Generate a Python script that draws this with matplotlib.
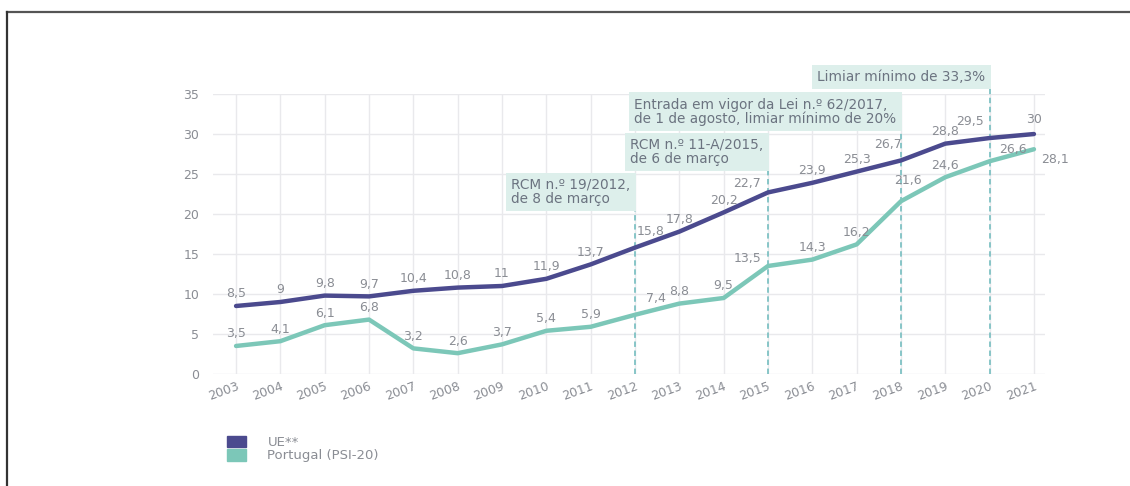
import matplotlib.pyplot as plt
from matplotlib.lines import Line2D
from matplotlib.patches import Patch

plt.rcParams['font.family'] = ['DejaVu Sans']

years = list(range(2003, 2022))
ue = [8.5, 9, 9.8, 9.7, 10.4, 10.8, 11, 11.9, 13.7, 15.8, 17.8, 20.2, 22.7, 23.9, 25.3, 26.7, 28.8, 29.5, 30]
portugal = [3.5, 4.1, 6.1, 6.8, 3.2, 2.6, 3.7, 5.4, 5.9, 7.4, 8.8, 9.5, 13.5, 14.3, 16.2, 21.6, 24.6, 26.6, 28.1]

marker_years = [2012, 2015, 2018, 2020]
marker_texts = [
    'RCM n.º 19/2012,\nde 8 de março',
    'RCM n.º 11-A/2015,\nde 6 de março',
    'Entrada em vigor da Lei n.º 62/2017,\nde 1 de agosto, limiar mínimo de 20%',
    'Limiar mínimo de 33,3%',
]
marker_levels = [20.5, 25.5, 30.5, 35.75]

UE_COL = '#4b4a8e'
PT_COL = '#7cc7b8'
TXT = '#8a8d94'
BOX = '#ddefeb'
DASH = '#7fc2c4'


def fmt(v):
    return ('%g' % v).replace('.', ',')


# label offsets in points (dx, dy) where the default doesn't fit
ue_off = {2012: (11, 7), 2015: (-15, 2), 2018: (-9, 7), 2020: (-14, 7), 2021: (0, 6)}
pt_off = {2012: (15, 7), 2015: (-15, 1), 2018: (5, 10), 2020: (17, 4), 2021: (15, -12)}

fig = plt.figure(figsize=(11.3, 4.86), dpi=100)
ax = fig.add_axes([0.1885, 0.2305, 0.7363, 0.576])

ax.plot(years, ue, color=UE_COL, lw=3.2, solid_capstyle='round', zorder=4)
ax.plot(years, portugal, color=PT_COL, lw=3.2, solid_capstyle='round', zorder=4)

for yr, v in zip(years, ue):
    dx, dy = ue_off.get(yr, (0, 4))
    ax.annotate(fmt(v), (yr, v), xytext=(dx, dy), textcoords='offset points',
                ha='center', va='bottom', fontsize=9, color=TXT, zorder=5)
for yr, v in zip(years, portugal):
    dx, dy = pt_off.get(yr, (0, 4))
    ax.annotate(fmt(v), (yr, v), xytext=(dx, dy), textcoords='offset points',
                ha='center', va='bottom', fontsize=9, color=TXT, zorder=5)

for yr, txt, lvl in zip(marker_years, marker_texts, marker_levels):
    ax.vlines(yr, 0, lvl, colors=DASH, linestyles=(0, (3, 2)), lw=1.3, zorder=3, clip_on=False)
    ax.text(yr - 0.1, lvl + 0.5, txt, ha='right', va='bottom', multialignment='left',
            fontsize=9.8, color='#6b7380', linespacing=0.98, zorder=6, clip_on=False,
            bbox=dict(boxstyle='square,pad=0.4', fc=BOX, ec='none'))

ax.set_xlim(2002.48, 2021.25)
ax.set_ylim(0, 35)
ax.set_yticks(range(0, 36, 5))
ax.set_xticks(years)
ax.set_xticklabels([str(y) for y in years], rotation=20, ha='right', rotation_mode='anchor')
ax.grid(True, color='#e9e9ec', lw=1)
ax.set_axisbelow(True)
for s in ax.spines.values():
    s.set_visible(False)
ax.tick_params(length=0, colors=TXT, labelsize=9)
ax.tick_params(axis='y', pad=10)
ax.tick_params(axis='x', pad=4)

handles = [Patch(color=UE_COL), Patch(color=PT_COL)]
leg = fig.legend(handles, ['UE**', 'Portugal (PSI-20)'], loc='upper left',
                 bbox_to_anchor=(0.19, 0.128), frameon=False, handlelength=1.5,
                 handleheight=0.95, labelspacing=0.02, handletextpad=1.6, fontsize=9.5)
for t in leg.get_texts():
    t.set_color(TXT)

# frame lines at top and left
top = 1 - 12 / 486
left = 7 / 1130
fig.add_artist(Line2D([left, 1], [top, top], color='#555555', lw=1.6))
fig.add_artist(Line2D([left, left], [0, top], color='#333333', lw=1.6))

fig.savefig('out.png', dpi=100)
